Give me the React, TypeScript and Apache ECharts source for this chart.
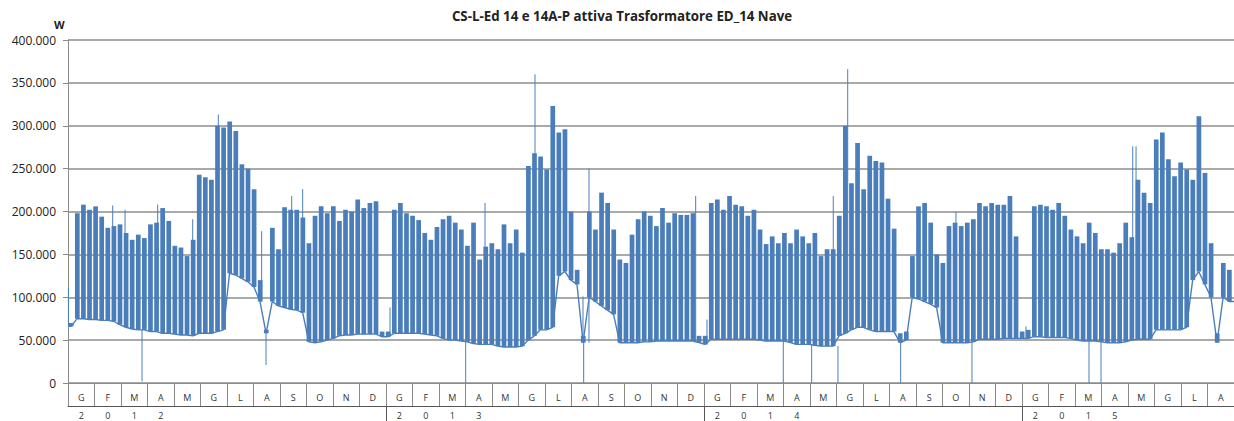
import React, { useEffect, useRef } from "react";
import * as echarts from "echarts";

// ---------- data (kW values) ----------
const TITLE = "CS-L-Ed 14 e 14A-P attiva Trasformatore ED_14 Nave";
const Y_UNIT = "W";
const MONTH_LETTERS = ["G", "F", "M", "A", "M", "G", "L", "A", "S", "O", "N", "D"];
const YEARS = ["2012", "2013", "2014", "2015"];
const MONTH_COUNT = 44; // Jan 2012 .. Aug 2015
const TOTAL_DAYS = 1339; // days from 1 Jan 2012 to 31 Aug 2015
const WORK_SPAN = 5.4; // width (days) of the weekday block of each week
const Y_MAX = 400000;
const Y_STEP = 50000;

// weekly weekday peak (kW), one value per week starting Monday 2 Jan 2012
const peaks2012 = [
  70, 198, 208, 202, 206, 194, 181, 183, 185, 175, 167, 173, 169,
  185, 187, 204, 189, 160, 158, 148, 167, 243, 240, 237, 300, 298,
  305, 294, 255, 250, 226, 120, 62, 181, 156, 205, 202, 202, 193,
  163, 195, 206, 198, 206, 189, 202, 200, 214, 204, 210, 212, 60, 60,
];
const peaks2013 = [
  202, 210, 198, 195, 190, 175, 167, 182, 191, 195, 187, 179, 160,
  187, 144, 159, 163, 156, 185, 163, 179, 152, 253, 268, 264, 249,
  323, 292, 296, 200, 132, 55, 200, 179, 222, 210, 179, 144, 140,
  173, 191, 200, 195, 183, 204, 187, 198, 196, 196, 198, 55, 55,
];
const peaks2014 = [
  210, 214, 202, 218, 208, 206, 195, 202, 179, 162, 171, 163, 175,
  163, 179, 171, 163, 175, 148, 156, 156, 195, 300, 233, 280, 226,
  265, 259, 257, 215, 180, 58, 60, 148, 206, 210, 187, 150, 140,
  183, 187, 183, 187, 191, 210, 206, 210, 208, 208, 218, 171, 60, 62,
];
const peaks2015 = [
  206, 208, 206, 202, 210, 195, 179, 171, 163, 187, 175, 156, 156,
  152, 163, 187, 170, 237, 222, 210, 284, 292, 261, 241, 257, 249,
  237, 311, 245, 163, 58, 140, 132,
];

// weekly base level (night / weekend), kW
const lows2012 = [
  66, 75, 75, 74, 74, 73, 73, 72, 68, 65, 63, 62, 62,
  60, 60, 58, 58, 57, 56, 56, 55, 58, 58, 58, 60, 62,
  128, 126, 122, 118, 112, 95, 58, 95, 90, 88, 86, 85, 82,
  48, 47, 48, 50, 52, 55, 56, 56, 57, 57, 57, 57, 54, 54,
];
const lows2013 = [
  58, 58, 58, 58, 58, 57, 56, 55, 52, 50, 50, 49, 48,
  46, 45, 45, 45, 43, 42, 42, 42, 43, 50, 55, 62, 62,
  65, 125, 130, 120, 115, 47, 100, 95, 90, 85, 80, 47, 47,
  47, 47, 48, 48, 49, 49, 49, 49, 49, 49, 49, 47, 45,
];
const lows2014 = [
  51, 51, 51, 51, 51, 51, 51, 51, 50, 49, 49, 49, 49,
  47, 45, 45, 45, 44, 43, 43, 43, 55, 58, 62, 65, 65,
  62, 60, 60, 60, 60, 47, 50, 100, 98, 95, 92, 88, 47,
  47, 47, 47, 47, 48, 51, 51, 51, 51, 52, 52, 52, 52, 52,
];
const lows2015 = [
  54, 54, 53, 53, 53, 53, 52, 50, 49, 49, 49, 48, 47,
  47, 47, 48, 50, 51, 51, 51, 62, 62, 62, 62, 62, 65,
  120, 130, 115, 100, 47, 100, 95,
];

// isolated spikes and drop-outs: [day since 1 Jan 2012, from kW, to kW]
const spikes: [number, number, number][] = [
  [0.5, 66, 111], [51.3, 72, 207], [65.5, 65, 202], [85, 62, 2],
  [103, 60, 208], [143.2, 56, 191], [172.6, 60, 313], [222.4, 95, 177],
  [227.4, 58, 21], [256.9, 86, 218], [269.5, 82, 226], [369.8, 54, 88],
  [456.7, 48, 0], [478.9, 45, 210], [536.3, 55, 360], [591.4, 47, 101],
  [592.2, 47, 0], [598.3, 47, 250], [720.8, 49, 218], [733.8, 45, 74],
  [821.4, 49, 0], [854, 45, 0], [878.8, 43, 218], [884.2, 43, 0],
  [895.4, 58, 366], [956.2, 47, 0], [1019.7, 47, 200], [1038.1, 48, 0],
  [1100.1, 52, 66], [1172.5, 49, 0], [1186.3, 48, 0], [1222.7, 50, 276],
  [1226.5, 50, 276],
];

// ---------- styling ----------
const BLUE = "#4a7ebb";
const GRID_GRAY = "#8c8c8c";
const AXIS_GRAY = "#8a8a8a";
const FONT = "'Open Sans', 'Liberation Sans', sans-serif";

export default function App() {
  const ref = useRef<HTMLDivElement>(null);

  useEffect(() => {
    if (!ref.current) return;
    const chart = echarts.init(ref.current, undefined, { renderer: "svg" });

    const peaks = [...peaks2012, ...peaks2013, ...peaks2014, ...peaks2015];
    const lows = [...lows2012, ...lows2013, ...lows2014, ...lows2015];
    const weekStart = (k: number) => 1 + 7 * k;

    const blockData = peaks.map((p, k) => [weekStart(k), lows[k] * 1000, p * 1000]);
    const baseData: number[][] = [[0, lows[0] * 1000]];
    lows.forEach((l, k) => baseData.push([weekStart(k) + 2.5, l * 1000]));
    baseData.push([TOTAL_DAYS, lows[lows.length - 1] * 1000]);
    const spikeData = spikes.map(([d, a, b]) => [d, a * 1000, b * 1000]);

    const monthLabels = Array.from({ length: MONTH_COUNT }, (_, i) => MONTH_LETTERS[i % 12]);
    const yearLabels = Array.from({ length: MONTH_COUNT }, (_, i) => {
      const y = YEARS[Math.floor(i / 12)];
      const p = i % 12;
      return p < y.length ? y[p] : "";
    });

    const option: any = {
      animation: false,
      backgroundColor: "#ffffff",
      graphic: [
        {
          type: "text",
          x: 622,
          y: 16,
          style: {
            text: TITLE,
            font: `bold 13.3px ${FONT}`,
            fill: "#222",
            textAlign: "center",
            textVerticalAlign: "middle",
          },
        },
        {
          type: "text",
          left: 54,
          top: 19,
          style: { text: Y_UNIT, font: `bold 11px ${FONT}`, fill: "#222" },
        },
      ],
      grid: { left: 68, right: 0, top: 40, bottom: 38, containLabel: false },
      xAxis: [
        {
          type: "value",
          min: 0,
          max: TOTAL_DAYS,
          show: false,
        },
        {
          type: "category",
          data: monthLabels,
          position: "bottom",
          boundaryGap: true,
          axisLine: { show: true, lineStyle: { color: AXIS_GRAY, width: 1 } },
          axisTick: { show: true, length: 23, alignWithLabel: false, interval: 0, lineStyle: { color: AXIS_GRAY } },
          axisLabel: { interval: 0, margin: 10, fontSize: 9, fontFamily: FONT, color: "#333" },
          splitLine: { show: false },
        },
        {
          type: "category",
          data: yearLabels,
          position: "bottom",
          offset: 23,
          boundaryGap: true,
          axisLine: { show: true, lineStyle: { color: "#555", width: 1 } },
          axisTick: {
            show: true,
            length: 20,
            alignWithLabel: false,
            interval: (i: number) => i % 12 === 0 && i > 0,
            lineStyle: { color: "#555" },
          },
          axisLabel: { interval: 0, margin: 5, fontSize: 9, fontFamily: FONT, color: "#333" },
          splitLine: { show: false },
        },
      ],
      yAxis: {
        type: "value",
        min: 0,
        max: Y_MAX,
        interval: Y_STEP,
        axisLine: { show: true, lineStyle: { color: AXIS_GRAY } },
        axisTick: { show: true, length: 5, lineStyle: { color: AXIS_GRAY } },
        axisLabel: {
          margin: 12,
          fontSize: 12,
          fontFamily: FONT,
          color: "#222",
          formatter: (v: number) => (v === 0 ? "0" : `${Math.round(v / 1000)}.000`),
        },
        splitLine: { show: true, lineStyle: { color: GRID_GRAY, width: 1.6 } },
      },
      series: [
        {
          name: "base",
          type: "line",
          xAxisIndex: 0,
          data: baseData,
          showSymbol: false,
          lineStyle: { color: BLUE, width: 1.4 },
          z: 3,
        },
        {
          name: "weekdays",
          type: "custom",
          xAxisIndex: 0,
          data: blockData,
          renderItem: (_p: any, api: any) => {
            const s = api.value(0);
            const lo = api.value(1);
            const hi = api.value(2);
            const a = api.coord([s, hi]);
            const b = api.coord([s + WORK_SPAN, lo]);
            return {
              type: "rect",
              shape: { x: a[0], y: a[1], width: b[0] - a[0], height: b[1] - a[1] },
              style: { fill: BLUE },
            };
          },
          z: 4,
        },
        {
          name: "spikes",
          type: "custom",
          xAxisIndex: 0,
          data: spikeData,
          renderItem: (_p: any, api: any) => {
            const d = api.value(0);
            const a = api.coord([d, api.value(1)]);
            const b = api.coord([d, api.value(2)]);
            return {
              type: "line",
              shape: { x1: a[0], y1: a[1], x2: b[0], y2: b[1] },
              style: { stroke: BLUE, lineWidth: 1 },
            };
          },
          z: 5,
        },
      ],
    };

    chart.setOption(option);
    return () => chart.dispose();
  }, []);

  return (
    <div
      ref={ref}
      style={{ position: "absolute", left: 0, top: 0, width: 1234, height: 421, background: "#fff" }}
    />
  );
}
